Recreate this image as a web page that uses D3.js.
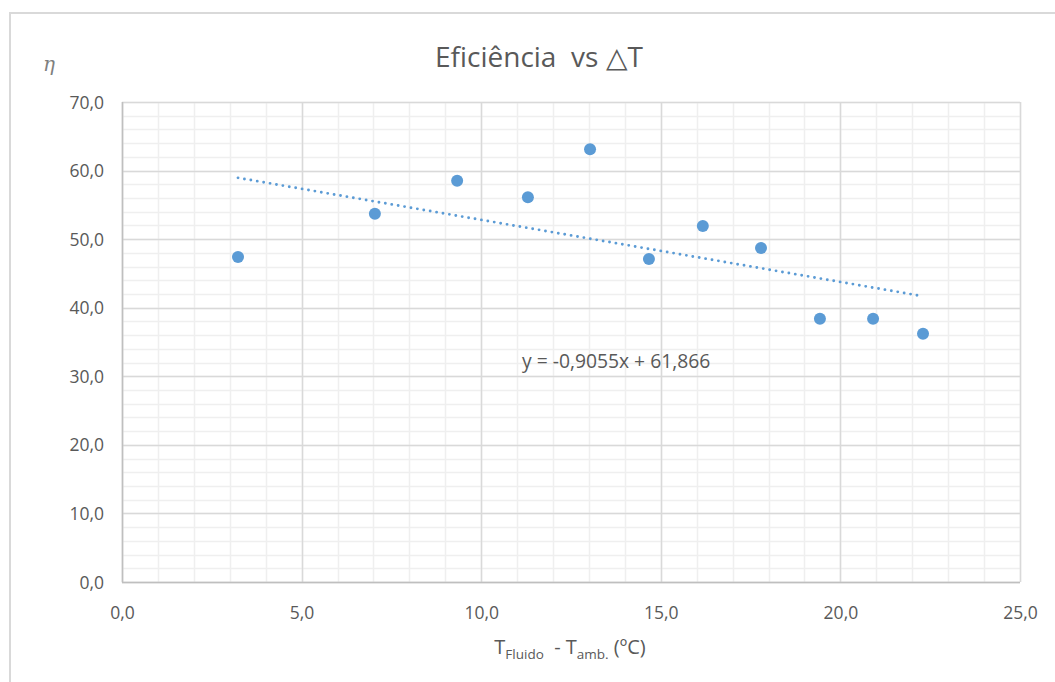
<!DOCTYPE html>
<html>
<head>
<meta charset="utf-8">
<script src="https://cdn.jsdelivr.net/npm/d3@7"></script>
<style>
  html, body { margin: 0; padding: 0; background: #fff; }
  svg { display: block; }
</style>
</head>
<body>
<svg id="chart" width="1055" height="682"></svg>
<script>
// Collector efficiency against temperature difference
const deltaT = [3.23, 7.04, 9.33, 11.30, 13.03, 14.67, 16.17, 17.79, 19.43, 20.91, 22.30];
const efficiency = [47.4, 53.7, 58.5, 56.1, 63.1, 47.1, 51.9, 48.7, 38.4, 38.4, 36.2];

// Linear trend line coefficients (shown in the equation label)
const trendSlope = -0.9055;
const trendIntercept = 61.866;

const xTicks = [0, 5, 10, 15, 20, 25];
const yTicks = [0, 10, 20, 30, 40, 50, 60, 70];
const xMinorTicks = d3.range(0, 25.001, 1);
const yMinorTicks = d3.range(0, 70.001, 2);

const fmt = v => v.toFixed(1).replace('.', ',');
const font = "'Open Sans', 'Noto Sans', sans-serif";

const svg = d3.select('#chart');
const W = 1055, H = 682;
const m = { left: 122, right: 1020, top: 102, bottom: 582 };

// Outer chart frame (runs off the right and bottom edges)
svg.append('path')
  .attr('d', `M10,${H + 2} L10,13 L${W + 2},13`)
  .attr('fill', 'none')
  .attr('stroke', '#d9d9d9')
  .attr('stroke-width', 2);

const x = d3.scaleLinear().domain([0, 25]).range([m.left, m.right]);
const y = d3.scaleLinear().domain([0, 70]).range([m.bottom, m.top]);

const grid = svg.append('g');

// Minor grid
grid.selectAll('.vx').data(xMinorTicks).join('line')
  .attr('x1', d => Math.round(x(d)) + 0.5).attr('x2', d => Math.round(x(d)) + 0.5)
  .attr('y1', m.top).attr('y2', m.bottom)
  .attr('stroke', '#efefef').attr('stroke-width', 1.5);
grid.selectAll('.hy').data(yMinorTicks).join('line')
  .attr('y1', d => Math.round(y(d)) + 0.5).attr('y2', d => Math.round(y(d)) + 0.5)
  .attr('x1', m.left).attr('x2', m.right)
  .attr('stroke', '#efefef').attr('stroke-width', 1.5);

// Major grid
grid.selectAll('.vX').data(xTicks).join('line')
  .attr('x1', d => Math.round(x(d)) + 0.5).attr('x2', d => Math.round(x(d)) + 0.5)
  .attr('y1', m.top).attr('y2', m.bottom)
  .attr('stroke', '#d9d9d9').attr('stroke-width', 1.5);
grid.selectAll('.hY').data(yTicks).join('line')
  .attr('y1', d => Math.round(y(d)) + 0.5).attr('y2', d => Math.round(y(d)) + 0.5)
  .attr('x1', m.left).attr('x2', m.right)
  .attr('stroke', '#d9d9d9').attr('stroke-width', 1.5);

// Axis lines
svg.append('line')
  .attr('x1', m.left + 0.5).attr('x2', m.left + 0.5)
  .attr('y1', m.top).attr('y2', m.bottom + 0.5)
  .attr('stroke', '#bfbfbf').attr('stroke-width', 1.5);
svg.append('line')
  .attr('x1', m.left).attr('x2', m.right)
  .attr('y1', m.bottom + 0.5).attr('y2', m.bottom + 0.5)
  .attr('stroke', '#bfbfbf').attr('stroke-width', 1.5);

// Tick labels
const xAxis = d3.axisBottom(x).tickValues(xTicks).tickFormat(fmt).tickSize(0).tickPadding(0);
const gx = svg.append('g').attr('transform', `translate(0,${m.bottom + 37})`).call(xAxis);
gx.select('.domain').remove();
gx.selectAll('text')
  .attr('dy', 0)
  .attr('y', 0)
  .attr('fill', '#595959')
  .style('font-family', font)
  .style('font-size', '17.5px');

const yAxis = d3.axisLeft(y).tickValues(yTicks).tickFormat(fmt).tickSize(0).tickPadding(0);
const gy = svg.append('g').attr('transform', `translate(${m.left - 18},0)`).call(yAxis);
gy.select('.domain').remove();
gy.selectAll('text')
  .attr('dy', '0.35em')
  .attr('x', 0)
  .attr('fill', '#595959')
  .style('font-family', font)
  .style('font-size', '17.5px');

// Trend line over the range of the data
const tx = d3.extent(deltaT);
const trend = tx.map(v => [v, trendSlope * v + trendIntercept]);
svg.append('path')
  .datum(trend)
  .attr('d', d3.line().x(d => x(d[0])).y(d => y(d[1])))
  .attr('fill', 'none')
  .attr('stroke', '#5b9bd5')
  .attr('stroke-width', 2.9)
  .attr('stroke-linecap', 'round')
  .attr('stroke-dasharray', '0,6.5');

// Data points
svg.append('g').selectAll('circle')
  .data(deltaT.map((v, i) => [v, efficiency[i]]))
  .join('circle')
  .attr('cx', d => x(d[0]))
  .attr('cy', d => y(d[1]))
  .attr('r', 6)
  .attr('fill', '#5b9bd5');

// Trend equation
svg.append('text')
  .attr('x', 522).attr('y', 368)
  .attr('fill', '#595959')
  .style('font-family', font)
  .style('font-size', '19.3px')
  .text('y = -0,9055x + 61,866');

// Title
const title = svg.append('text')
  .attr('x', 539).attr('y', 67)
  .attr('text-anchor', 'middle')
  .attr('fill', '#595959')
  .attr('xml:space', 'preserve')
  .style('font-family', font)
  .style('font-size', '28px');
title.append('tspan').text('Eficiência\u00a0 vs ');
title.append('tspan').style('font-family', "'DejaVu Sans', sans-serif").style('font-weight', 200).text('△');
title.append('tspan').text('T');

// Y axis symbol
svg.append('text')
  .attr('x', 43).attr('y', 71)
  .attr('fill', '#7f7f7f')
  .style('font-family', "'DejaVu Serif', serif")
  .style('font-style', 'italic')
  .style('font-size', '20px')
  .text('η');

// X axis title with subscripts
const xt = svg.append('text')
  .attr('x', 570).attr('y', 654)
  .attr('text-anchor', 'middle')
  .attr('fill', '#595959')
  .attr('xml:space', 'preserve')
  .style('font-family', font)
  .style('font-size', '20px');
xt.append('tspan').text('T');
xt.append('tspan').attr('dy', 5).style('font-size', '13.5px').text('Fluido');
xt.append('tspan').attr('dy', -5).text('\u00a0 - T');
xt.append('tspan').attr('dy', 5).style('font-size', '13.5px').text('amb.');
xt.append('tspan').attr('dy', -5).text(' (ºC)');
</script>
</body>
</html>
